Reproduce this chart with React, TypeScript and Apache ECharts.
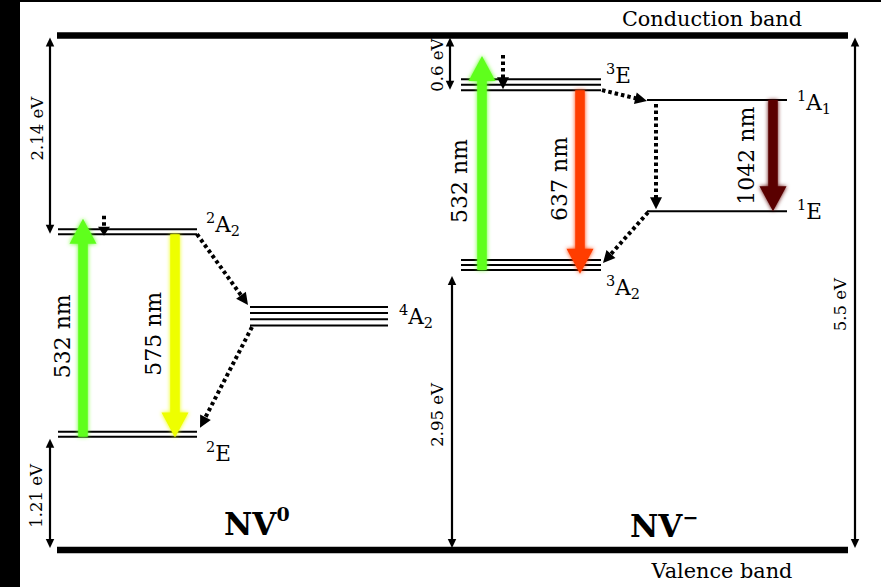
import React, { useEffect, useRef } from "react";
import * as echarts from "echarts";

// ---------- data: energies in eV above the valence band maximum ----------
const bandNames = ["Valence band", "Conduction band"];
const bandEnergies = [0, 5.5];

const nv0States = ["²E", "⁴A₂", "²A₂"];
const nv0Energies = [1.21, 2.4, 3.36];
const nv0Sublevels = [2, 4, 2];

const nvmStates = ["³A₂", "¹E", "¹A₁", "³E"];
const nvmEnergies = [2.95, 3.62, 4.81, 4.9];
const nvmSublevels = [3, 1, 1, 3];

// optical transitions (starting state, wavelength in nm, +1 absorption / -1 emission)
const nv0OpticalFrom = ["²E", "²A₂"];
const nv0Wavelengths = [532, 575];
const nv0OpticalDir = [1, -1];

const nvmOpticalFrom = ["³A₂", "³E", "¹A₁"];
const nvmWavelengths = [532, 637, 1042];
const nvmOpticalDir = [1, -1, -1];

// energy spans marked by double-headed arrows
const gapLower = [3.36, 0, 4.9, 0, 0];
const gapUpper = [5.5, 1.21, 5.5, 2.95, 5.5];

// charge-state captions
const chargeNames = ["NV", "NV"];
const chargeSigns = ["0", "−"];

// ---------- helpers ----------
const photonEV = (nm: number) => 1239.84 / nm;

const stateEnergy: Record<string, number> = {};
const stateSublevels: Record<string, number> = {};
nv0States.forEach((s, i) => {
  stateEnergy[s] = nv0Energies[i];
  stateSublevels[s] = nv0Sublevels[i];
});
nvmStates.forEach((s, i) => {
  stateEnergy[s] = nvmEnergies[i];
  stateSublevels[s] = nvmSublevels[i];
});
const allStates = [...nv0States, ...nvmStates];

const optical = [
  ...nv0OpticalFrom.map((s, i) => ({ from: s, nm: nv0Wavelengths[i], dir: nv0OpticalDir[i] })),
  ...nvmOpticalFrom.map((s, i) => ({ from: s, nm: nvmWavelengths[i], dir: nvmOpticalDir[i] })),
];

// vibronic levels reached by the 532 nm excitation
const nv0Vibronic = stateEnergy["²E"] + photonEV(532);
const nvmVibronic = stateEnergy["³A₂"] + photonEV(532);

// ---------- layout ----------
const W = 881;
const H = 587;
const PX_PER_EV = 514.5 / 5.5;
const Y_MAX = 550 / PX_PER_EV;
const Y_MIN = -(H - 550) / PX_PER_EV;
const SERIF = '"DejaVu Serif", "Liberation Serif", serif';

const bandX = [57, 848];
const bandLabelX = [722, 712];
const bandLabelDy = [21, -16.5];

const levelLayout: Record<
  string,
  { x0: number; x1: number; spacing: number; lift: number; lx: number; ly: number }
> = {
  "²E": { x0: 58, x1: 197, spacing: 5, lift: 0, lx: 206, ly: 17 },
  "⁴A₂": { x0: 250, x1: 388, spacing: 6.2, lift: 0, lx: 399, ly: -9 },
  "²A₂": { x0: 58, x1: 197, spacing: 5, lift: 1.5, lx: 206, ly: -11 },
  "³A₂": { x0: 461, x1: 601, spacing: 5, lift: 4, lx: 606, ly: 13 },
  "¹E": { x0: 647, x1: 787, spacing: 0, lift: 0, lx: 797, ly: 0 },
  "¹A₁": { x0: 647, x1: 787, spacing: 0, lift: 0, lx: 797, ly: 2 },
  "³E": { x0: 461, x1: 601, spacing: 5.5, lift: 1.5, lx: 606, ly: -16.5 },
};

const opticalLayout = [
  { x: 83, color: "#5FFF1F", lx: -21, ly: 8.5 },
  { x: 175, color: "#EEFF00", lx: -22, ly: -2 },
  { x: 482, color: "#5FFF1F", lx: -23, ly: 18 },
  { x: 580, color: "#FF3C00", lx: -21, ly: -3 },
  { x: 773, color: "#5A0000", lx: -27, ly: 0 },
];

const gapX = [50, 50, 450, 452, 855];
const gapLabelDx = [-12.5, -14, -13, -15, -15];
const gapLabelDy = [-7, 2.5, 1.5, 3, 12];

// dotted non-radiative paths: [x, energy, pixel nudge]
const relaxLayout: { from: [number, number, number]; to: [number, number, number] }[] = [
  { from: [197, stateEnergy["²A₂"], -1.5], to: [248, stateEnergy["⁴A₂"], -20.5] },
  { from: [252, stateEnergy["⁴A₂"], 1.5], to: [200, stateEnergy["²E"], -9] },
  { from: [104, nv0Vibronic, -3], to: [104, stateEnergy["²A₂"], 0] },
  { from: [503, nvmVibronic, -1], to: [503, stateEnergy["³E"], -2.5] },
  { from: [602, stateEnergy["³E"], -1.5], to: [647, stateEnergy["¹A₁"], 1] },
  { from: [656, stateEnergy["¹A₁"], 4], to: [656, stateEnergy["¹E"], -2] },
  { from: [648, stateEnergy["¹E"], 1], to: [603, stateEnergy["³A₂"], -11] },
];

const chargeLayout = [
  { x: 224, y: 523.5 },
  { x: 630, y: 526 },
];

// ---------- drawing helpers ----------
const SUP: Record<string, string> = { "⁰": "0", "¹": "1", "²": "2", "³": "3", "⁴": "4" };
const SUB: Record<string, string> = { "₀": "0", "₁": "1", "₂": "2" };
const toRich = (s: string) =>
  Array.from(s)
    .map((ch) => (SUP[ch] ? `{sup|${SUP[ch]}}` : SUB[ch] ? `{sub|${SUB[ch]}}` : `{m|${ch}}`))
    .join("");

const termRich = {
  m: { fontFamily: SERIF, fontSize: 21.5, lineHeight: 28, verticalAlign: "middle", fill: "#000" },
  sup: { fontFamily: SERIF, fontSize: 14.5, lineHeight: 14, verticalAlign: "top", fill: "#000" },
  sub: { fontFamily: SERIF, fontSize: 14.5, lineHeight: 14, verticalAlign: "bottom", fill: "#000" },
};

function headPolygon(tip: number[], from: number[], len: number, width: number, fill: string) {
  const dx = tip[0] - from[0];
  const dy = tip[1] - from[1];
  const d = Math.hypot(dx, dy) || 1;
  const ux = dx / d;
  const uy = dy / d;
  const bx = tip[0] - ux * len;
  const by = tip[1] - uy * len;
  return {
    type: "polygon",
    shape: {
      points: [
        [tip[0], tip[1]],
        [bx - uy * (width / 2), by + ux * (width / 2)],
        [bx + uy * (width / 2), by - ux * (width / 2)],
      ],
    },
    style: { fill },
  };
}

const yOf = (api: any, e: number) => api.coord([0, e])[1];
const idx = (n: number) => Array.from({ length: n }, (_, i) => [i, 0]);

function buildOption() {
  const bandSeries = {
    type: "custom",
    silent: true,
    z: 2,
    data: idx(bandNames.length),
    renderItem: (p: any, api: any) => {
      const i = p.dataIndex;
      const a = api.coord([bandX[0], bandEnergies[i]]);
      const b = api.coord([bandX[1], bandEnergies[i]]);
      return {
        type: "group",
        children: [
          {
            type: "line",
            shape: { x1: a[0], y1: a[1], x2: b[0], y2: b[1] },
            style: { stroke: "#000", lineWidth: 6.5 },
          },
          {
            type: "text",
            x: bandLabelX[i],
            y: a[1] + bandLabelDy[i],
            style: {
              text: bandNames[i],
              fontFamily: SERIF,
              fontSize: 20.8,
              fill: "#000",
              align: "center",
              verticalAlign: "middle",
            },
          },
        ],
      };
    },
  };

  const levelSeries = {
    type: "custom",
    silent: true,
    z: 2,
    data: idx(allStates.length),
    renderItem: (p: any, api: any) => {
      const name = allStates[p.dataIndex];
      const lay = levelLayout[name];
      const yE = yOf(api, stateEnergy[name]);
      const x0 = api.coord([lay.x0, 0])[0];
      const x1 = api.coord([lay.x1, 0])[0];
      const children: any[] = [];
      for (let k = 0; k < stateSublevels[name]; k++) {
        const y = yE - lay.lift - k * lay.spacing;
        children.push({
          type: "line",
          shape: { x1: x0, y1: y, x2: x1, y2: y },
          style: { stroke: "#000", lineWidth: 2 },
        });
      }
      children.push({
        type: "text",
        x: lay.lx,
        y: yE + lay.ly,
        style: { text: toRich(name), rich: termRich, align: "left", verticalAlign: "middle" },
      });
      return { type: "group", children };
    },
  };

  const gapSeries = {
    type: "custom",
    silent: true,
    z: 3,
    data: idx(gapLower.length),
    renderItem: (p: any, api: any) => {
      const i = p.dataIndex;
      const x = gapX[i];
      const yTop = yOf(api, gapUpper[i]) + 2;
      const yBot = yOf(api, gapLower[i]) - 2;
      const value = +(gapUpper[i] - gapLower[i]).toFixed(2);
      return {
        type: "group",
        children: [
          {
            type: "line",
            shape: { x1: x, y1: yTop + 6, x2: x, y2: yBot - 6 },
            style: { stroke: "#000", lineWidth: 2.2 },
          },
          headPolygon([x, yTop], [x, yBot], 9, 8.5, "#000"),
          headPolygon([x, yBot], [x, yTop], 9, 8.5, "#000"),
          {
            type: "text",
            x: x + gapLabelDx[i],
            y: (yTop + yBot) / 2 + gapLabelDy[i],
            rotation: Math.PI / 2,
            style: {
              text: `${value} eV`,
              fontFamily: SERIF,
              fontSize: 16.5,
              fill: "#000",
              align: "center",
              verticalAlign: "middle",
            },
          },
        ],
      };
    },
  };

  const relaxSeries = {
    type: "custom",
    silent: true,
    z: 4,
    data: idx(relaxLayout.length),
    renderItem: (p: any, api: any) => {
      const r = relaxLayout[p.dataIndex];
      const a = api.coord([r.from[0], r.from[1]]);
      a[1] += r.from[2];
      const b = api.coord([r.to[0], r.to[1]]);
      b[1] += r.to[2];
      const dx = b[0] - a[0];
      const dy = b[1] - a[1];
      const d = Math.hypot(dx, dy) || 1;
      const head = Math.min(12, d * 0.45);
      const bx = b[0] - (dx / d) * (head - 1);
      const by = b[1] - (dy / d) * (head - 1);
      return {
        type: "group",
        children: [
          {
            type: "line",
            shape: { x1: a[0], y1: a[1], x2: bx, y2: by },
            style: { stroke: "#000", lineWidth: 4, lineDash: [3.5, 3] },
          },
          headPolygon(b, a, head, 12, "#000"),
        ],
      };
    },
  };

  const opticalSeries = {
    type: "custom",
    silent: true,
    z: 5,
    data: idx(optical.length),
    renderItem: (p: any, api: any) => {
      const i = p.dataIndex;
      const t = optical[i];
      const lay = opticalLayout[i];
      const e0 = stateEnergy[t.from];
      const e1 = e0 + t.dir * photonEV(t.nm);
      const x = api.coord([lay.x, 0])[0];
      const yTail = yOf(api, e0) - levelLayout[t.from].lift;
      const yTip = yOf(api, e1);
      const dir = Math.sign(yTip - yTail);
      const shaft = 9.5;
      const headW = 27;
      const headL = 25;
      const yh = yTip - dir * headL;
      return {
        type: "group",
        children: [
          {
            type: "polygon",
            shape: {
              points: [
                [x - shaft / 2, yTail],
                [x + shaft / 2, yTail],
                [x + shaft / 2, yh],
                [x + headW / 2, yh],
                [x, yTip],
                [x - headW / 2, yh],
                [x - shaft / 2, yh],
              ],
            },
            style: { fill: lay.color, shadowBlur: 4, shadowColor: lay.color },
          },
          {
            type: "text",
            x: x + lay.lx,
            y: (yTail + yTip) / 2 + lay.ly,
            rotation: Math.PI / 2,
            style: {
              text: `${t.nm} nm`,
              fontFamily: SERIF,
              fontSize: 22,
              fill: "#000",
              align: "center",
              verticalAlign: "middle",
            },
          },
        ],
      };
    },
  };

  const chargeSeries = {
    type: "custom",
    silent: true,
    z: 5,
    data: idx(chargeNames.length),
    renderItem: (p: any) => {
      const i = p.dataIndex;
      return {
        type: "text",
        x: chargeLayout[i].x,
        y: chargeLayout[i].y,
        style: {
          text: `{b|${chargeNames[i]}}{s|${chargeSigns[i]}}`,
          align: "left",
          verticalAlign: "middle",
          rich: {
            b: {
              fontFamily: SERIF,
              fontWeight: "bold",
              fontSize: 31,
              lineHeight: 38,
              verticalAlign: "middle",
              fill: "#000",
            },
            s: {
              fontFamily: SERIF,
              fontWeight: "bold",
              fontSize: 19,
              lineHeight: 19,
              verticalAlign: "top",
              fill: "#000",
            },
          },
        },
      };
    },
  };

  return {
    animation: false,
    backgroundColor: "#ffffff",
    grid: { left: 0, right: 0, top: 0, bottom: 0 },
    xAxis: { type: "value", min: 0, max: W, show: false },
    yAxis: { type: "value", min: Y_MIN, max: Y_MAX, show: false },
    graphic: [
      { type: "rect", silent: true, shape: { x: 0, y: 0, width: 20, height: H }, style: { fill: "#000" } },
      { type: "rect", silent: true, shape: { x: 0, y: 0, width: W, height: 2 }, style: { fill: "#000" } },
    ],
    series: [bandSeries, levelSeries, gapSeries, relaxSeries, opticalSeries, chargeSeries],
  };
}

export default function App() {
  const ref = useRef<HTMLDivElement>(null);
  useEffect(() => {
    if (!ref.current) return;
    const chart = echarts.init(ref.current, null, { renderer: "svg" });
    chart.setOption(buildOption() as any);
    return () => chart.dispose();
  }, []);
  return (
    <div
      ref={ref}
      style={{ position: "fixed", left: 0, top: 0, width: W, height: H, background: "#ffffff" }}
    />
  );
}
